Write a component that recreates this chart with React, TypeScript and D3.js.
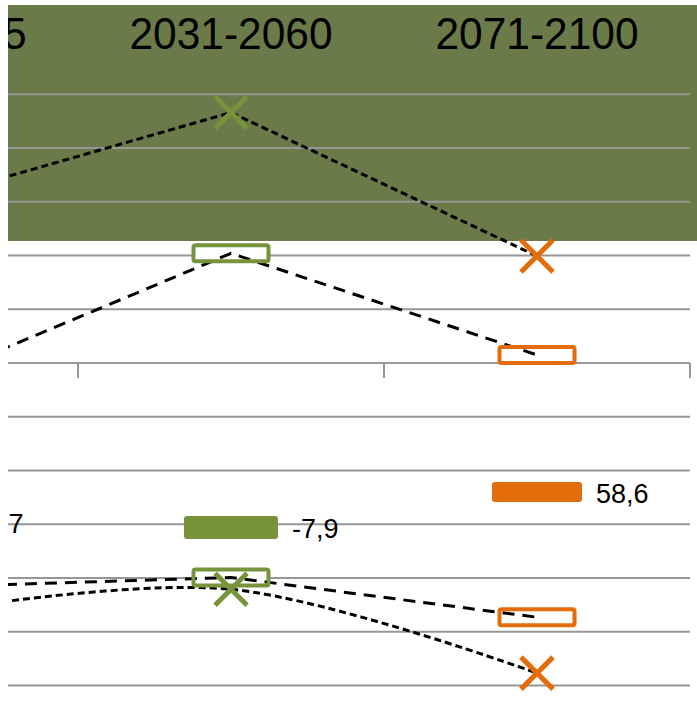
import React from "react";
import * as d3 from "d3";

// ---- data ----
const categories = ["1976-2005", "2031-2060", "2071-2100"];
// upper series, X markers, short dashes
const upperCross = [30.3, 46.6, 19.9];
// upper series, hollow box markers, long dashes
const upperBox = [-3.5, 20.4, 1.5];
// lower series, hollow box markers, long dashes
const lowerBox = [-41.7, -39.9, -47.3];
// lower series, X markers, short dashes, smoothed
const lowerCross = [-46.5, -42.1, -57.7];
// filled bar markers with data labels
const barValues = [-29.6, -30.6, -24.0];
const barLabels = ["4,7", "-7,9", "58,6"];
const gridValues = [-60, -50, -40, -30, -20, -10, 0, 10, 20, 30, 40, 50];

// ---- styles ----
const W = 697;
const H = 701;
const pointColors = ["#4F81BD", "#77933C", "#E46C0A"];
const barSizes = [
  { w: 94, h: 23 },
  { w: 94, h: 23 },
  { w: 90, h: 20 },
];
const headerFill = "#6A7A49";
const gridColor = "#969696";
const font = "'Liberation Sans', Arial, sans-serif";

export default function App() {
  const x = d3.scaleBand<string>().domain(categories).range([-228, 690]).padding(0);
  const cx = (i: number) => (x(categories[i]) as number) + x.bandwidth() / 2;
  const y = d3.scaleLinear().domain([-60, 50]).range([685.5, 94.25]);

  const straight = d3
    .line<number>()
    .x((_, i) => cx(i))
    .y((d) => y(d));
  const smooth = d3
    .line<number>()
    .x((_, i) => cx(i))
    .y((d) => y(d))
    .curve(d3.curveCardinal.tension(0));

  const boundaries = [...categories.map((c) => x(c) as number), 690];

  const cross = (px: number, py: number, color: string, key: string) => {
    const s = 16;
    return (
      <path
        key={key}
        d={`M${px - s},${py - s}L${px + s},${py + s}M${px - s},${py + s}L${px + s},${py - s}`}
        stroke={color}
        strokeWidth={5}
        fill="none"
      />
    );
  };

  const boxW = 75;
  const boxH = 16;

  return (
    <svg
      width={W - 8}
      height={H}
      style={{ position: "absolute", left: 8, top: 0, display: "block" }}
    >
      <g transform="translate(-8,0)">
        <rect x={0} y={0} width={W} height={H} fill="#ffffff" />
        <rect x={0} y={5} width={W} height={236} fill={headerFill} />
        {gridValues.map((v) => (
          <line
            key={"g" + v}
            x1={-228}
            x2={690}
            y1={y(v)}
            y2={y(v)}
            stroke={gridColor}
            strokeWidth={2}
          />
        ))}
        {boundaries.map((b, i) => (
          <line
            key={"t" + i}
            x1={b}
            x2={b}
            y1={y(0)}
            y2={y(0) + 15}
            stroke={gridColor}
            strokeWidth={2}
          />
        ))}
        {categories.map((c, i) => (
          <text
            key={"c" + c}
            x={cx(i)}
            y={49}
            textAnchor="middle"
            fontFamily={font}
            fontSize={44.7}
            textLength={203}
            lengthAdjust="spacingAndGlyphs"
            fill="#000"
          >
            {c}
          </text>
        ))}
        {barValues.map((v, i) => (
          <g key={"b" + i}>
            <rect
              x={cx(i) - barSizes[i].w / 2}
              y={y(v) - barSizes[i].h / 2}
              width={barSizes[i].w}
              height={barSizes[i].h}
              rx={3}
              fill={pointColors[i]}
            />
            <text
              x={cx(i) + barSizes[i].w / 2 + 14}
              y={y(v) + 10.5}
              fontFamily={font}
              fontSize={27}
              fill="#000"
            >
              {barLabels[i]}
            </text>
          </g>
        ))}
        {[upperBox, lowerBox].map((s, si) =>
          s.map((v, i) => (
            <rect
              key={"bf" + si + "-" + i}
              x={cx(i) - boxW / 2}
              y={y(v) - boxH / 2}
              width={boxW}
              height={boxH}
              fill="#ffffff"
            />
          ))
        )}
        <path d={straight(upperCross) as string} fill="none" stroke="#000" strokeWidth={3} strokeDasharray="7 4" />
        <path d={straight(upperBox) as string} fill="none" stroke="#000" strokeWidth={3} strokeDasharray="12 8" />
        <path d={straight(lowerBox) as string} fill="none" stroke="#000" strokeWidth={3} strokeDasharray="12 8" />
        <path d={smooth(lowerCross) as string} fill="none" stroke="#000" strokeWidth={3} strokeDasharray="7 4" />
        {[upperBox, lowerBox].map((s, si) =>
          s.map((v, i) => (
            <rect
              key={"bs" + si + "-" + i}
              x={cx(i) - boxW / 2}
              y={y(v) - boxH / 2}
              width={boxW}
              height={boxH}
              rx={2}
              fill="none"
              stroke={pointColors[i]}
              strokeWidth={4}
            />
          ))
        )}
        {[upperCross, lowerCross].map((s, si) =>
          s.map((v, i) => cross(cx(i), y(v), pointColors[i], "x" + si + "-" + i))
        )}
      </g>
    </svg>
  );
}
